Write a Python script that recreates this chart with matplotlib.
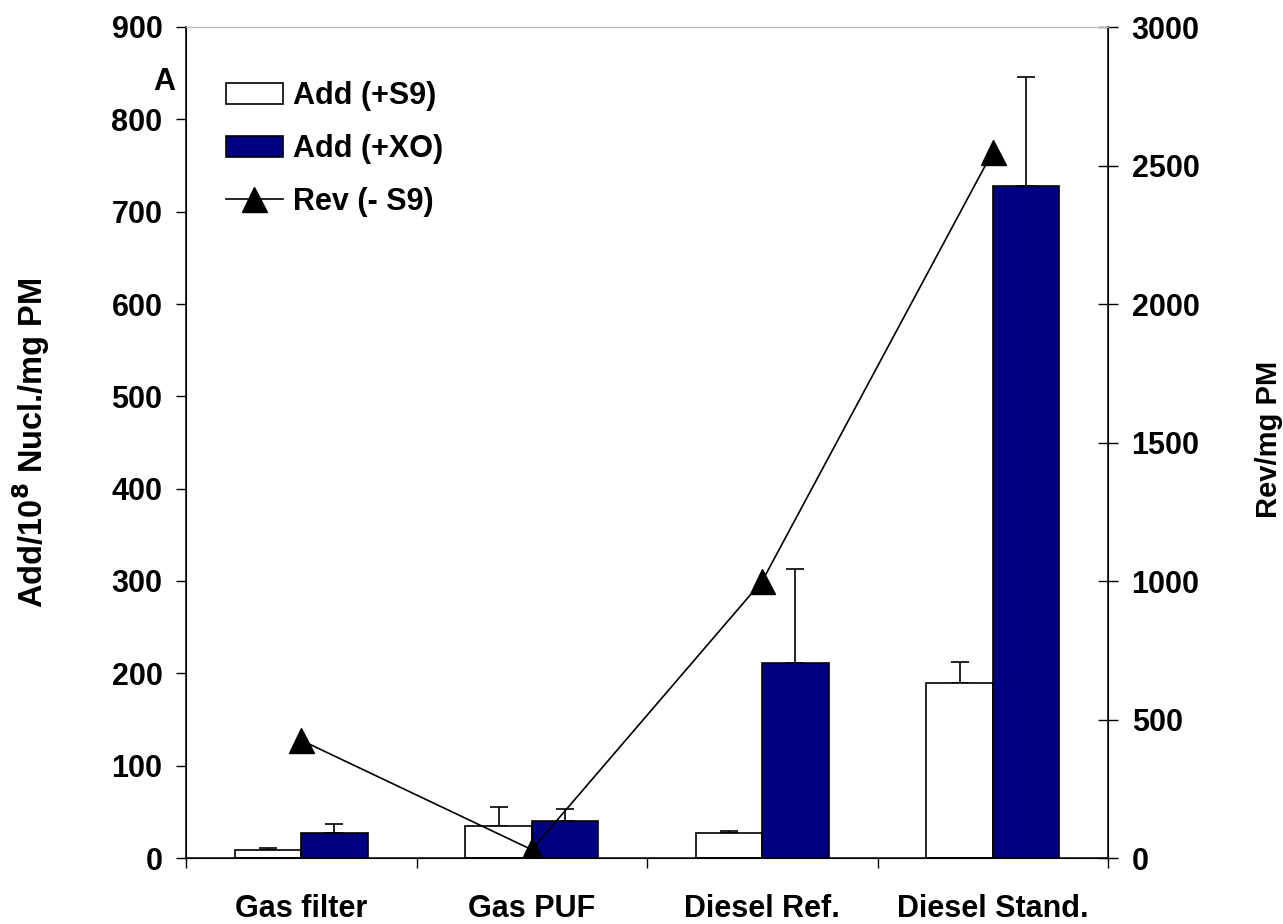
import matplotlib
matplotlib.use("Agg")
import matplotlib.pyplot as plt
from matplotlib.patches import Patch
from matplotlib.lines import Line2D
import numpy as np

plt.rcParams['font.family'] = ['Liberation Sans', 'DejaVu Sans']
plt.rcParams['font.weight'] = 'bold'

categories = ["Gas filter", "Gas PUF", "Diesel Ref.", "Diesel Stand."]
add_s9 = [9, 35, 27, 190]
add_s9_err = [1.5, 20, 2, 22]
add_xo = [27, 40, 211, 728]
add_xo_err = [9.5, 13, 102, 118]
rev_s9 = [425, 30, 1000, 2550]
left_ticks = list(range(0, 901, 100))
right_ticks = list(range(0, 3001, 500))

fig = plt.figure(figsize=(12.83, 9.24), dpi=100)
ax = fig.add_axes([186/1283, 1-858/924, (1108-186)/1283, (858-27)/924])

x = np.arange(len(categories))
w = 0.2885
fs = 22

ax.bar(x - w/2, add_s9, w, color='white', edgecolor='black', linewidth=1.2, zorder=2)
ax.bar(x + w/2, add_xo, w, color='#000080', edgecolor='black', linewidth=1.2, zorder=2)
ax.errorbar(x - w/2, add_s9, yerr=[np.zeros(4), add_s9_err], fmt='none',
            ecolor='black', elinewidth=1.2, capsize=6.5, capthick=1.2, zorder=1)
ax.errorbar(x + w/2, add_xo, yerr=[np.zeros(4), add_xo_err], fmt='none',
            ecolor='black', elinewidth=1.2, capsize=6.5, capthick=1.2, zorder=1)

ax.set_xlim(-0.5, 3.5)
ax.set_ylim(0, 900)
ax.set_yticks(left_ticks)
ax.set_xticks(np.arange(-0.5, 3.6, 1.0))
ax.set_xticklabels([])
ax.set_xticks(x, minor=True)
ax.set_xticklabels(categories, minor=True, fontsize=fs, fontweight='bold')
ax.tick_params(axis='x', which='minor', length=0, pad=26)
ax.tick_params(axis='x', which='major', direction='out', length=7, width=1)
ax.tick_params(axis='y', direction='out', length=7, width=1, labelsize=fs, pad=10)
for lab in ax.get_yticklabels():
    lab.set_fontweight('bold')
ax.spines['top'].set_color('#b8b8b8')
for s in ['left', 'bottom']:
    ax.spines[s].set_linewidth(1.1)
ax.set_ylabel("Add/10$^\\mathbf{8}$ Nucl./mg PM", fontsize=23.5, fontweight='bold')
ax.yaxis.set_label_coords(-0.145, 0.5)

ax2 = ax.twinx()
ax2.plot(x, rev_s9, color='black', linewidth=1.2, marker='^', markersize=18,
         markerfacecolor='black', zorder=3)
ax2.set_ylim(0, 3000)
ax2.set_yticks(right_ticks)
ax2.tick_params(axis='y', direction='inout', length=14, width=1, labelsize=fs, pad=10)
for lab in ax2.get_yticklabels():
    lab.set_fontweight('bold')
ax2.spines['top'].set_color('#b8b8b8')
ax2.spines['right'].set_linewidth(1.1)
ax2.set_ylabel("Rev/mg PM", fontsize=21, fontweight='bold')
ax2.yaxis.set_label_coords(1.159, 0.504)

ax.text(-0.024, 0.934, "A", transform=ax.transAxes, ha='center', va='center',
        fontsize=fs, fontweight='bold')

handles = [Patch(facecolor='white', edgecolor='black', linewidth=1.2),
           Patch(facecolor='#000080', edgecolor='black', linewidth=1.2),
           Line2D([0], [0], color='black', linewidth=1.2, marker='^', markersize=18)]
labels = ["Add (+S9)", "Add (+XO)", "Rev (- S9)"]
leg = ax2.legend(handles, labels, loc='upper left', bbox_to_anchor=(0.0434, 0.935),
                 frameon=False, prop={'weight': 'bold', 'size': fs},
                 handlelength=1.85, handleheight=0.7, handletextpad=0.35,
                 labelspacing=0.75, borderpad=0, borderaxespad=0)

fig.savefig("out.png", dpi=100)
